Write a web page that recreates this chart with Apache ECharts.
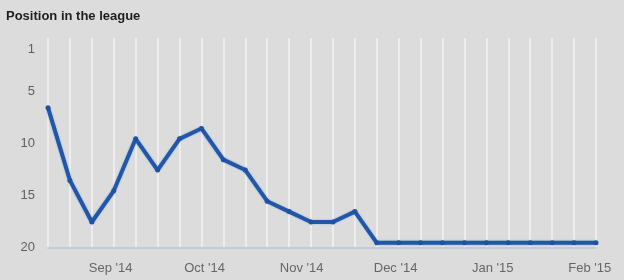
<!DOCTYPE html>
<html>
<head>
<meta charset="utf-8">
<script src="https://cdn.jsdelivr.net/npm/echarts@6/dist/echarts.min.js"></script>
<style>
html,body{margin:0;padding:0;background:#dcdcdc;}
#c{width:624px;height:280px;}
</style>
</head>
<body>
<div id="c"></div>
<script>
// Weekly snapshot dates (first one), count of points
var startDate = '2014-08-12';
var positions = [7, 14, 18, 15, 10, 13, 10, 9, 12, 13, 16, 17, 18, 18, 17, 20, 20, 20, 20, 20, 20, 20, 20, 20, 20, 20];
var yTickLabels = [1, 5, 10, 15, 20];
var monthNames = ['Jan', 'Feb', 'Mar', 'Apr', 'May', 'Jun', 'Jul', 'Aug', 'Sep', 'Oct', 'Nov', 'Dec'];
var titleText = 'Position in the league';

var DAY = 86400000;
var t0 = Date.parse(startDate + 'T00:00:00Z');
var dates = positions.map(function (_, i) { return t0 + i * 7 * DAY; });
var seriesData = positions.map(function (p, i) { return [dates[i], p]; });

var chart = echarts.init(document.getElementById('c'), null, {renderer: 'canvas'});
chart.setOption({
  backgroundColor: '#dcdcdc',
  animation: false,
  title: {
    text: titleText,
    left: 6,
    top: 10,
    padding: 0,
    textStyle: {fontFamily: 'Liberation Sans, Arial, sans-serif', fontSize: 13, fontWeight: 'bold', color: '#1e1e1e'}
  },
  grid: {left: 48, right: 28, top: 38, bottom: 32, containLabel: false},
  xAxis: [{
    type: 'time',
    min: dates[0],
    max: dates[dates.length - 1],
    minInterval: 28 * DAY,
    maxInterval: 31 * DAY,
    axisLine: {show: true, lineStyle: {color: '#c6ccd6', width: 2}},
    axisTick: {show: false},
    splitLine: {show: false},
    axisLabel: {
      color: '#666666',
      fontFamily: 'Liberation Sans, Arial, sans-serif',
      fontSize: 13,
      margin: 14,
      showMinLabel: false,
      showMaxLabel: false,
      formatter: function (v) {
        var d = new Date(v);
        return monthNames[d.getUTCMonth()] + " '" + String(d.getUTCFullYear()).slice(2);
      }
    }
  }, {
    type: 'category',
    data: dates,
    boundaryGap: false,
    position: 'bottom',
    axisLine: {show: false},
    axisTick: {show: false},
    axisLabel: {show: false},
    splitLine: {show: true, interval: 0, lineStyle: {color: '#f3f3f3', width: 1.5}}
  }],
  yAxis: {
    type: 'value',
    inverse: true,
    min: 0.3,
    max: 20.5,
    axisLine: {show: false},
    axisTick: {show: false},
    splitLine: {show: false},
    axisLabel: {
      customValues: yTickLabels,
      color: '#606060',
      fontFamily: 'Liberation Sans, Arial, sans-serif',
      fontSize: 13,
      lineHeight: 9,
      margin: 13,
      verticalAlign: 'top'
    }
  },
  series: [{
    type: 'line',
    xAxisIndex: 0,
    data: seriesData,
    symbol: 'circle',
    symbolSize: 5,
    showSymbol: true,
    itemStyle: {color: '#1f52a0'},
    lineStyle: {color: '#2257a8', width: 4, shadowColor: 'rgba(120,160,220,0.8)', shadowBlur: 2},
    z: 5
  }]
});
</script>
</body>
</html>
